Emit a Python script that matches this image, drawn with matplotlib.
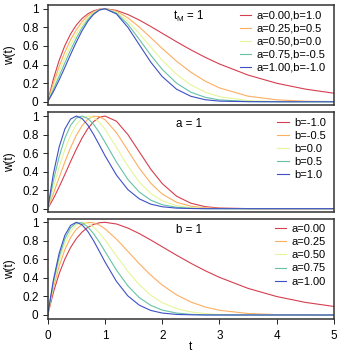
import matplotlib
matplotlib.use("Agg")
import matplotlib.pyplot as plt

plt.rcParams['font.family'] = ['Liberation Sans', 'DejaVu Sans']
plt.rcParams['mathtext.fontset'] = 'custom'
plt.rcParams['mathtext.rm'] = 'Liberation Sans'

# ---------------- data ----------------
t = [0, 0.1, 0.2, 0.3, 0.4, 0.5, 0.6, 0.7, 0.8, 0.9, 1.0, 1.2, 1.4, 1.6, 1.8,
     2.0, 2.25, 2.5, 2.75, 3.0, 3.5, 4.0, 4.5, 5.0]

# panel 1 : t_M = 1
w_a000_b10 = [0, 0.246, 0.445, 0.604, 0.729, 0.824, 0.895, 0.945, 0.977, 0.995, 1.0, 0.982, 0.938, 0.878, 0.809,
              0.736, 0.645, 0.558, 0.478, 0.406, 0.287, 0.199, 0.136, 0.092]
w_a025_b05 = [0, 0.201, 0.379, 0.534, 0.666, 0.774, 0.860, 0.924, 0.967, 0.992, 1.0, 0.973, 0.902, 0.803, 0.689,
              0.573, 0.436, 0.318, 0.222, 0.149, 0.060, 0.021, 0.006, 0.002]
w_a050_b00 = [0, 0.164, 0.323, 0.473, 0.609, 0.728, 0.826, 0.903, 0.958, 0.990, 1.0, 0.963, 0.866, 0.733, 0.587,
              0.446, 0.295, 0.181, 0.103, 0.055, 0.013, 0.002, 0.0, 0.0]
w_a075_bm05 = [0, 0.134, 0.275, 0.418, 0.556, 0.683, 0.794, 0.883, 0.948, 0.987, 1.0, 0.953, 0.832, 0.670, 0.500,
               0.348, 0.200, 0.103, 0.048, 0.020, 0.003, 0.0, 0.0, 0.0]
w_a100_bm10 = [0, 0.109, 0.235, 0.370, 0.509, 0.642, 0.763, 0.864, 0.939, 0.985, 1.0, 0.944, 0.800, 0.613, 0.426,
               0.271, 0.135, 0.059, 0.022, 0.007, 0.001, 0.0, 0.0, 0.0]

# panel 2 : a = 1
w_a1_bm05 = [0, 0.165, 0.336, 0.505, 0.659, 0.792, 0.895, 0.964, 0.997, 0.995, 0.961, 0.821, 0.629, 0.436, 0.275,
             0.158, 0.069, 0.027, 0.009, 0.003, 0.0, 0.0, 0.0, 0.0]
w_a1_b00 = [0, 0.231, 0.448, 0.639, 0.795, 0.908, 0.976, 1.000, 0.984, 0.934, 0.858, 0.663, 0.460, 0.288, 0.164,
            0.085, 0.033, 0.011, 0.003, 0.001, 0.0, 0.0, 0.0, 0.0]
w_a1_b05 = [0, 0.304, 0.561, 0.761, 0.900, 0.978, 1.000, 0.974, 0.912, 0.823, 0.719, 0.503, 0.316, 0.179, 0.092,
            0.043, 0.015, 0.004, 0.001, 0.0, 0.0, 0.0, 0.0, 0.0]
w_a1_b10 = [0, 0.379, 0.666, 0.860, 0.967, 1.0, 0.973, 0.902, 0.803, 0.689, 0.573, 0.363, 0.206, 0.106, 0.049,
            0.021, 0.006, 0.002, 0.0, 0.0, 0.0, 0.0, 0.0, 0.0]

# panel 3 : b = 1
w_a025_b1 = [0, 0.293, 0.527, 0.706, 0.837, 0.925, 0.977, 0.999, 0.995, 0.971, 0.930, 0.819, 0.687, 0.553, 0.430,
             0.323, 0.217, 0.140, 0.086, 0.051, 0.016, 0.004, 0.001, 0.0]
w_a050_b1 = [0, 0.327, 0.583, 0.772, 0.899, 0.972, 0.999, 0.989, 0.948, 0.887, 0.811, 0.639, 0.471, 0.326, 0.214,
             0.133, 0.069, 0.033, 0.015, 0.006, 0.001, 0.0, 0.0, 0.0]
w_a075_b1 = [0, 0.355, 0.628, 0.821, 0.940, 0.994, 0.994, 0.952, 0.879, 0.788, 0.687, 0.485, 0.314, 0.187, 0.104,
             0.053, 0.021, 0.007, 0.002, 0.001, 0.0, 0.0, 0.0, 0.0]

panel1_series = [w_a000_b10, w_a025_b05, w_a050_b00, w_a075_bm05, w_a100_bm10]
panel1_labels = ["a=0.00,b=1.0", "a=0.25,b=0.5", "a=0.50,b=0.0", "a=0.75,b=-0.5", "a=1.00,b=-1.0"]
panel2_series = [w_a100_bm10, w_a1_bm05, w_a1_b00, w_a1_b05, w_a1_b10]
panel2_labels = ["b=-1.0", "b=-0.5", "b=0.0", "b=0.5", "b=1.0"]
panel3_series = [w_a000_b10, w_a025_b1, w_a050_b1, w_a075_b1, w_a1_b10]
panel3_labels = ["a=0.00", "a=0.25", "a=0.50", "a=0.75", "a=1.00"]
panel_titles = [r"$\mathregular{t_M}$ = 1", "a = 1", "b = 1"]

colors = ["#D53E4F", "#FDAE61", "#E6F598", "#66C2A5", "#3F4FC6"]
yticks = [0, 0.2, 0.4, 0.6, 0.8, 1.0]
ytick_labels = ["0", "0.2", "0.4", "0.6", "0.8", "1"]
xticks = [0, 1, 2, 3, 4, 5]
xtick_labels = ["0", "1", "2", "3", "4", "5"]

# ---------------- layout ----------------
W = 354.0
fig = plt.figure(figsize=(3.54, 3.54), dpi=100)
FS = 8.5
LFS = 8.0


def box(top, bottom):
    return [47.7 / W, 1 - bottom / W, 286.3 / W, (bottom - top) / W]


boxes = [box(5.0, 105.5), box(112.3, 212.4), box(218.6, 318.7)]
all_series = [panel1_series, panel2_series, panel3_series]
all_labels = [panel1_labels, panel2_labels, panel3_labels]

axes = []
for i in range(3):
    ax = fig.add_axes(boxes[i])
    axes.append(ax)
    for ys, lab, c in zip(all_series[i], all_labels[i], colors):
        ax.plot(t, ys, color=c, lw=0.8, label=lab)
    ax.set_xlim(0, 5)
    ax.set_ylim(-0.04, 1.04)
    ax.set_yticks(yticks)
    ax.set_yticklabels(ytick_labels)
    ax.tick_params(axis='y', direction='out', length=3.6, width=0.7, pad=3.0,
                   labelsize=FS, color='#222222')
    if i < 2:
        ax.tick_params(axis='x', bottom=False, labelbottom=False)
    else:
        ax.set_xticks(xticks)
        ax.set_xticklabels(xtick_labels)
        ax.tick_params(axis='x', direction='out', length=3.4, width=0.7, pad=5.0,
                       labelsize=FS, color='#222222')
    for s in ax.spines.values():
        s.set_linewidth(1.1)
        s.set_color('#333333')
    ax.text(2.47, 0.915, panel_titles[i], ha='center', va='center', fontsize=LFS + 0.3)
    ax.legend(loc='upper right', bbox_to_anchor=(0.972, 0.945), frameon=False,
              fontsize=LFS, handlelength=1.05, handletextpad=0.5, labelspacing=0.28,
              borderpad=0.0, borderaxespad=0.0)
    b = boxes[i]
    fig.text(10.5 / W, b[1] + b[3] / 2, "w(t)", rotation=90, ha='center', va='center',
             fontsize=FS)

fig.text(190.9 / W, 1 - 346.5 / W, "t", ha='center', va='center', fontsize=FS)

fig.savefig("out.png", dpi=100)
